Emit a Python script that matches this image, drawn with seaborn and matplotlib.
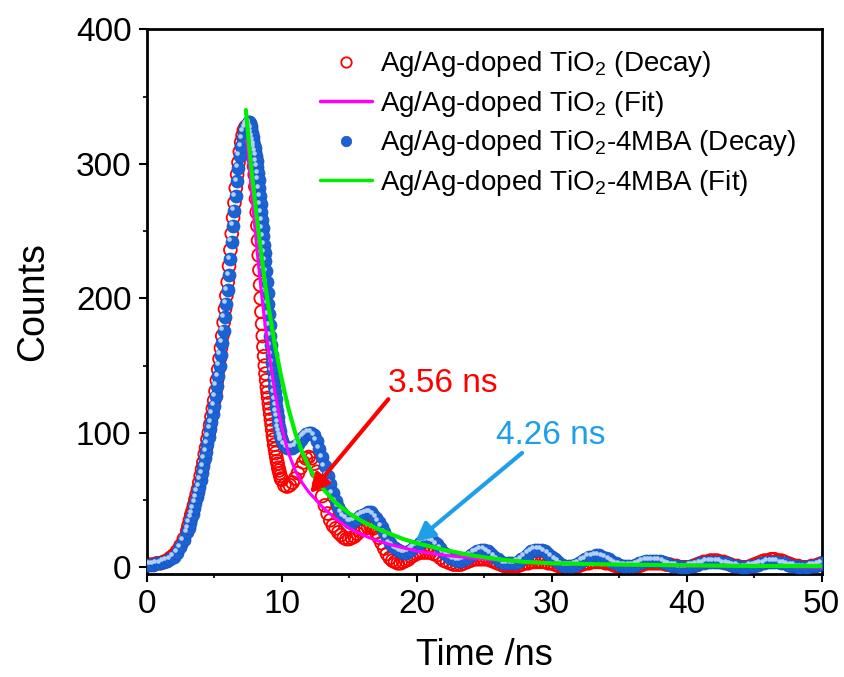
import numpy as np
import matplotlib
matplotlib.use("Agg")
import matplotlib.pyplot as plt
import matplotlib.transforms as mtransforms
from matplotlib.lines import Line2D
from matplotlib.ticker import MultipleLocator
import seaborn as sns

# ---- data ----
# time channels (ns): coarse on the baseline, finer where the curves are steep
time_ns = np.concatenate([
    np.linspace(0.0, 2.75, 12),
    np.linspace(3.0, 7.4, 45),
    np.linspace(7.5, 9.95, 50),
    np.linspace(10.0, 19.8, 50),
    np.linspace(20.0, 50.0, 121),
])

# Ag/Ag-doped TiO2 decay counts
decay_tio2 = [
    2, 2, 2, 3, 3, 4, 5, 7, 9, 12, 16, 21,
    27, 31, 35, 39, 42, 46, 50, 54, 58, 63,
    68, 73, 78, 84, 89, 95, 100, 106, 112, 118,
    124, 131, 139, 147, 155, 163, 172, 182, 192, 202,
    212, 224, 236, 248, 260, 271, 282, 292, 301, 309,
    316, 321, 325, 327, 328,
    328, 327, 326, 324, 321, 318, 314, 309, 304, 298,
    292, 283, 274, 264, 254, 243, 232, 221, 210, 200,
    190, 181, 172, 164, 157, 150, 144, 139, 134, 130,
    126, 122, 118, 114, 110, 106, 102, 98, 95, 91,
    88, 85, 82, 79, 77, 74, 72, 70, 68, 66,
    65, 61, 60, 61, 63, 66, 70, 74, 78, 81,
    82, 81, 77, 71, 62, 53, 46, 40, 35, 31,
    29, 26, 24, 22, 21, 21, 22, 23, 25, 27,
    28, 29, 30, 30, 29, 26, 22, 18, 14, 10,
    7, 5, 4, 3, 3, 4, 5, 6, 8, 9,
    10, 11, 11, 11, 11, 10, 9, 7, 5, 4, 3, 2, 2, 2, 3, 4, 5, 6, 6, 6,
    6, 6, 5, 4, 3, 2, 1, 1, 1, 1, 1, 2, 3, 3, 4, 4, 4, 4, 4, 3,
    3, 2, 1, 1, 0, 0, 0, 0, 1, 2, 3, 3, 4, 4, 4, 4, 3, 3, 2, 1,
    1, 0, 0, 0, 0, 1, 1, 2, 3, 3, 3, 3, 3, 3, 2, 2, 1, 1, 0, 0,
    0, 0, 1, 2, 3, 4, 4, 5, 5, 5, 4, 4, 3, 2, 1, 1, 0, 0, 0, 1,
    2, 3, 4, 5, 5, 6, 6, 5, 5, 4, 3, 2, 1, 1, 0, 0, 0, 1, 1, 2,
    3,
]

# Ag/Ag-doped TiO2-4MBA decay counts
decay_4mba = [
    2, 2, 2, 3, 3, 4, 5, 6, 8, 11, 15, 20,
    26, 29, 33, 37, 40, 44, 48, 52, 56, 60,
    65, 70, 75, 81, 86, 92, 97, 103, 108, 114,
    120, 127, 135, 142, 150, 158, 167, 176, 186, 196,
    206, 217, 229, 242, 254, 265, 276, 287, 297, 306,
    313, 319, 324, 327, 329,
    330, 331, 331, 330, 328, 326, 323, 320, 317, 314,
    312, 309, 306, 302, 298, 293, 288, 282, 276, 270,
    264, 258, 252, 246, 240, 234, 228, 220, 212, 204,
    196, 188, 180, 172, 165, 158, 152, 146, 140, 135,
    130, 125, 120, 116, 112, 108, 104, 101, 98, 96,
    94, 91, 89, 89, 89, 90, 92, 95, 97, 99,
    100, 100, 98, 94, 88, 82, 75, 68, 62, 55,
    49, 45, 41, 38, 36, 34, 34, 35, 36, 38,
    39, 40, 41, 41, 39, 37, 34, 30, 26, 22,
    18, 16, 14, 13, 12, 11, 11, 12, 13, 15,
    16, 18, 20, 20, 20, 19, 17, 14, 11, 9, 7, 6, 5, 5, 6, 7, 9, 11, 12, 13,
    13, 12, 10, 8, 6, 4, 3, 3, 3, 3, 4, 6, 8, 10, 12, 13, 13, 13, 12, 10,
    8, 6, 4, 2, 1, 1, 1, 2, 3, 5, 6, 8, 8, 9, 9, 8, 7, 6, 4, 3,
    2, 1, 1, 1, 1, 2, 3, 4, 5, 5, 5, 5, 5, 4, 3, 2, 1, 1, 0, 0,
    0, 1, 1, 2, 3, 3, 4, 4, 4, 4, 4, 3, 3, 2, 1, 1, 0, 0, 0, 1,
    1, 2, 3, 3, 4, 4, 4, 4, 3, 3, 2, 1, 1, 0, 0, 0, 0, 1, 1, 2,
    3,
]

# fitted curves
fit_tio2_t = [7.4, 7.6, 7.8, 8.0, 8.25, 8.5, 8.75, 9.0, 9.5, 10, 10.5, 11, 11.5,
              12, 13, 14, 15, 16, 17, 18, 20, 22, 25, 30, 35, 40, 45, 50]
fit_tio2_c = [318, 298, 276, 254, 228, 204, 182, 163, 130, 104, 85, 72, 63,
              56, 45, 36, 29, 24, 20, 17, 12, 9, 6, 3, 2, 1, 1, 0]
fit_4mba_t = [7.35, 7.6, 7.8, 8.0, 8.25, 8.5, 8.75, 9.0, 9.5, 10, 10.5, 11, 11.5,
              12, 12.5, 13, 14, 15, 16, 17, 18, 19, 20, 22, 24, 26, 28, 30,
              35, 40, 45, 50]
fit_4mba_c = [340, 312, 292, 274, 252, 232, 212, 195, 165, 140, 118, 100, 86,
              75, 66, 59, 48, 40, 34, 29, 25, 21, 18, 13, 9, 6, 4, 3,
              2, 1.5, 1, 1]

labels = [
    "Ag/Ag-doped TiO$_2$ (Decay)",
    "Ag/Ag-doped TiO$_2$ (Fit)",
    "Ag/Ag-doped TiO$_2$-4MBA (Decay)",
    "Ag/Ag-doped TiO$_2$-4MBA (Fit)",
]
lifetime_labels = ["3.56 ns", "4.26 ns"]
# annotation anchors (text position, arrow tail, arrow tip) in data units
red_text_xy, red_tail, red_tip = (21.95, 137), (17.9, 125), (12.1, 55)
blue_text_xy, blue_tail, blue_tip = (29.9, 98), (27.8, 85), (19.9, 19)

RED = "#ff0000"
BLUE = "#1b62d4"
MAGENTA = "#ff00ff"
GREEN = "#00ee00"
SKY = "#1e9fe8"

sns.set_style("ticks")
plt.rcParams["font.family"] = ["Liberation Sans", "DejaVu Sans"]
plt.rcParams["mathtext.fontset"] = "custom"
plt.rcParams["mathtext.rm"] = "Liberation Sans"
plt.rcParams["mathtext.it"] = "Liberation Sans:italic"
plt.rcParams["mathtext.bf"] = "Liberation Sans:bold"
plt.rcParams["text.color"] = "black"
plt.rcParams["axes.labelcolor"] = "black"

fig = plt.figure(figsize=(8.44, 6.77), dpi=100)
ax = fig.add_axes([0.1738, 0.1521, 0.7998, 0.8046])

# decay markers
sns.scatterplot(x=time_ns, y=decay_tio2, ax=ax, color=RED, edgecolor=RED,
                s=85, linewidth=1.3, zorder=2, legend=False)
ax.collections[-1].set_facecolor("none")

sns.scatterplot(x=time_ns, y=decay_4mba, ax=ax, color=BLUE, edgecolor="#1752bd",
                s=88, linewidth=0.5, zorder=3, legend=False)
# small light spot on each ball, like the shaded symbols of the original
sns.scatterplot(x=time_ns, y=decay_4mba, ax=ax, color="#b4cff4",
                s=11, linewidth=0, zorder=3.1, legend=False)
shift = mtransforms.ScaledTranslation(-1.8 / 72, 1.8 / 72, fig.dpi_scale_trans)
ax.collections[-1].set_offset_transform(ax.transData + shift)

# fits
sns.lineplot(x=fit_tio2_t, y=fit_tio2_c, ax=ax, color=MAGENTA, lw=2.2, zorder=4)
sns.lineplot(x=fit_4mba_t, y=fit_4mba_c, ax=ax, color=GREEN, lw=3, zorder=5)

# lifetime annotations
ax.annotate("", xy=red_tip, xytext=red_tail,
            arrowprops=dict(arrowstyle="-|>", color=RED, lw=3,
                            mutation_scale=28, shrinkA=0, shrinkB=0), zorder=6)
ax.text(*red_text_xy, lifetime_labels[0], color=RED, fontsize=24,
        ha="center", va="center")
ax.annotate("", xy=blue_tip, xytext=blue_tail,
            arrowprops=dict(arrowstyle="-|>", color=SKY, lw=3,
                            mutation_scale=28, shrinkA=0, shrinkB=0), zorder=6)
ax.text(*blue_text_xy, lifetime_labels[1], color=SKY, fontsize=24,
        ha="center", va="center")

# legend
handles = [
    Line2D([], [], ls="none", marker="o", ms=7.5, mfc="none", mec=RED, mew=1.3),
    Line2D([], [], color=MAGENTA, lw=2.5),
    Line2D([], [], ls="none", marker="o", ms=7.5, mfc=BLUE, mec="#1752bd", mew=0.5),
    Line2D([], [], color=GREEN, lw=2.5),
]
ax.legend(handles, labels, loc="upper left", bbox_to_anchor=(0.257, 0.963),
          frameon=False, fontsize=20, handlelength=1.87, handletextpad=0.29,
          labelspacing=0.34, borderpad=0, borderaxespad=0)

# axes styling
ax.set_xlim(0, 50)
ax.set_ylim(-5, 400)
ax.xaxis.set_major_locator(MultipleLocator(10))
ax.xaxis.set_minor_locator(MultipleLocator(5))
ax.yaxis.set_major_locator(MultipleLocator(100))
ax.yaxis.set_minor_locator(MultipleLocator(50))
ax.tick_params(which="major", direction="out", length=6, width=1.5,
               labelsize=24, pad=5, top=False, right=False, colors="black")
ax.tick_params(which="minor", direction="out", length=3, width=1.5,
               top=False, right=False)
for spine in ax.spines.values():
    spine.set_linewidth(2)
    spine.set_color("black")

ax.set_xlabel("Time /ns", fontsize=26, labelpad=13)
ax.set_ylabel("Counts", fontsize=27, labelpad=18)

fig.savefig("out.png", dpi=100)
